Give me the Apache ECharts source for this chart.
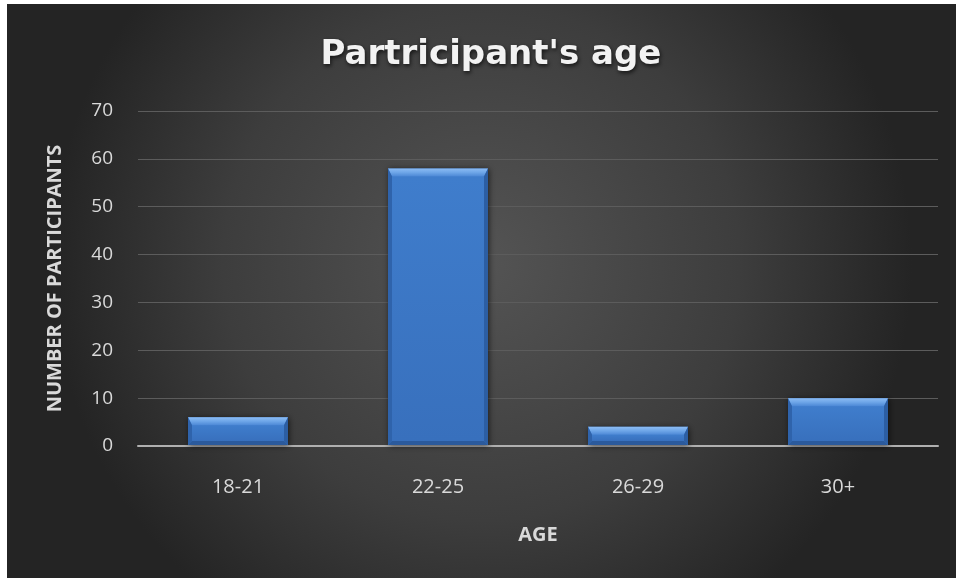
<!DOCTYPE html>
<html><head><meta charset="utf-8">
<script src="https://cdn.jsdelivr.net/npm/echarts@6/dist/echarts.min.js"></script>
<style>html,body{margin:0;padding:0;background:#fff}#c{width:956px;height:578px}</style>
</head><body><div id="c"></div>
<script>
const categories = ['18-21', '22-25', '26-29', '30+'];
const participants = [6, 58, 4, 10];
const yTicks = { min: 0, max: 70, interval: 10 };
const titleText = "Partricipant's age";
const xName = 'AGE';
const yName = 'NUMBER OF PARTICIPANTS';

const chart = echarts.init(document.getElementById('c'), null, { renderer: 'canvas' });
const FONT = 'Open Sans';

function renderBar(params, api) {
  const i = api.value(0), v = api.value(1);
  const top = api.coord([i, v]);
  const base = api.coord([i, 0]);
  const w = api.size([1, 0])[0] * 0.5;
  const x0 = top[0] - w / 2, x1 = top[0] + w / 2;
  const y0 = top[1], y1 = base[1] - 1;
  const h = y1 - y0;
  const bt = Math.min(8, h / 2), bs = Math.min(4, w / 2);
  return {
    type: 'group',
    children: [
      { type: 'rect', shape: { x: x0, y: y0, width: w, height: h },
        style: { fill: '#3b77c6', shadowBlur: 6, shadowColor: 'rgba(0,0,0,0.6)', shadowOffsetX: 1, shadowOffsetY: 1 } },
      { type: 'rect', shape: { x: x0 + bs, y: y0 + bt, width: w - 2 * bs, height: Math.max(0, h - bt - bs) },
        style: { fill: new echarts.graphic.LinearGradient(0, 0, 0, 1, [
          { offset: 0, color: '#3f7dcc' }, { offset: 1, color: '#3870bd' }]) } },
      { type: 'polygon', shape: { points: [[x0, y0], [x1, y0], [x1 - bs, y0 + bt], [x0 + bs, y0 + bt]] },
        style: { fill: new echarts.graphic.LinearGradient(0, 0, 0, 1, [
          { offset: 0, color: '#8cbcf4' }, { offset: 0.5, color: '#6ea6e8' }, { offset: 1, color: '#4c88d6' }]) } },
      { type: 'polygon', shape: { points: [[x0, y0], [x0 + bs, y0 + bt], [x0 + bs, y1 - bs], [x0, y1]] },
        style: { fill: '#2f63ab' } },
      { type: 'polygon', shape: { points: [[x1, y0], [x1 - bs, y0 + bt], [x1 - bs, y1 - bs], [x1, y1]] },
        style: { fill: '#2c5ea3' } },
      { type: 'polygon', shape: { points: [[x0, y1], [x0 + bs, y1 - bs], [x1 - bs, y1 - bs], [x1, y1]] },
        style: { fill: '#2b5a9c' } }
    ]
  };
}

chart.setOption({
  backgroundColor: '#ffffff',
  animation: false,
  graphic: [{
    type: 'rect', z: -10, silent: true,
    shape: { x: 7, y: 4, width: 949, height: 574 },
    style: { fill: new echarts.graphic.RadialGradient(0.5, 0.45, 0.75, [
      { offset: 0, color: '#545454' }, { offset: 0.6, color: '#3d3d3d' }, { offset: 1, color: '#242424' }]) }
  }],
  title: {
    text: titleText, left: 486, top: 33, textAlign: 'center',
    textStyle: { color: '#f2f2f2', fontFamily: 'DejaVu Sans', fontWeight: 'bold', fontSize: 34,
      textShadowColor: 'rgba(0,0,0,0.7)', textShadowBlur: 4, textShadowOffsetX: 1, textShadowOffsetY: 2 }
  },
  grid: { left: 138, right: 18, top: 111, bottom: 132, containLabel: false },
  xAxis: {
    type: 'category', data: categories,
    name: xName, nameLocation: 'middle', nameGap: 79,
    nameTextStyle: { color: '#d9d9d9', fontFamily: FONT, fontWeight: 'bold', fontSize: 20 },
    axisLine: { show: true, lineStyle: { color: '#b0b0b0', width: 2 } },
    axisTick: { show: false },
    axisLabel: { color: '#d9d9d9', fontFamily: FONT, fontSize: 20, margin: 31 },
    splitLine: { show: false }
  },
  yAxis: {
    type: 'value', min: yTicks.min, max: yTicks.max, interval: yTicks.interval,
    name: yName, nameLocation: 'middle', nameGap: 73, nameRotate: 90,
    nameTextStyle: { color: '#d9d9d9', fontFamily: FONT, fontWeight: 'bold', fontSize: 20 },
    axisLine: { show: false }, axisTick: { show: false },
    axisLabel: { color: '#d9d9d9', fontFamily: FONT, fontSize: 19, margin: 25 },
    splitLine: { lineStyle: { color: '#5c5c5c', width: 1 } }
  },
  series: [{
    type: 'custom', renderItem: renderBar,
    data: participants.map((v, i) => [i, v]),
    encode: { x: 0, y: 1 }
  }]
});
</script></body></html>
